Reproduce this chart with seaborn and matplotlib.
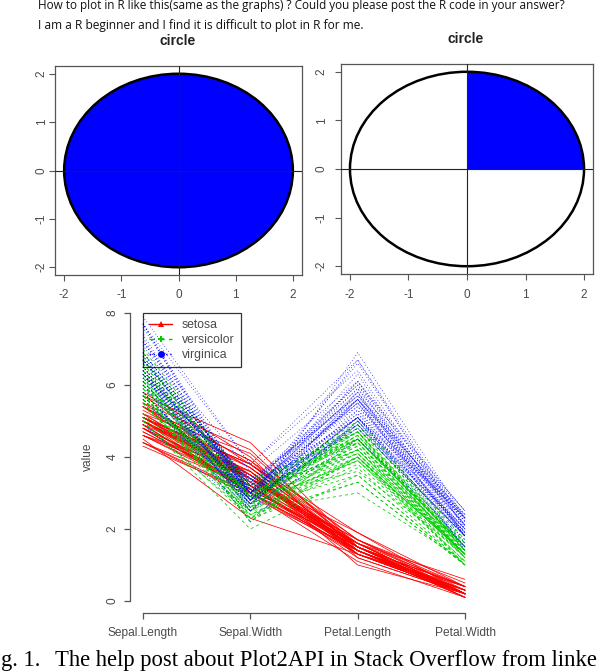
import numpy as np
import pandas as pd
import matplotlib
matplotlib.use("Agg")
import matplotlib.pyplot as plt
import seaborn as sns
from matplotlib.patches import Circle, Wedge
from matplotlib.lines import Line2D

# ---------------- data ----------------
question_lines = [
    "How to plot in R like this(same as the graphs) ? Could you please post the R code in your answer?",
    "I am a R beginner and I find it is difficult to plot in R for me.",
]
panel_titles = ["circle", "circle"]
circle_radius = 2
circle_ticks = [-2, -1, 0, 1, 2]
filled_quadrant = (0, 90)          # degrees of the blue wedge in the right panel

variables = ["Sepal.Length", "Sepal.Width", "Petal.Length", "Petal.Width"]
species_names = ["setosa", "versicolor", "virginica"]
value_ticks = [0, 2, 4, 6, 8]

setosa_sepal_length = [5.1,4.9,4.7,4.6,5.0,5.4,4.6,5.0,4.4,4.9,5.4,4.8,4.8,4.3,5.8,5.7,5.4,5.1,5.7,5.1,5.4,5.1,4.6,5.1,4.8,5.0,5.0,5.2,5.2,4.7,4.8,5.4,5.2,5.5,4.9,5.0,5.5,4.9,4.4,5.1,5.0,4.5,4.4,5.0,5.1,4.8,5.1,4.6,5.3,5.0]
setosa_sepal_width = [3.5,3.0,3.2,3.1,3.6,3.9,3.4,3.4,2.9,3.1,3.7,3.4,3.0,3.0,4.0,4.4,3.9,3.5,3.8,3.8,3.4,3.7,3.6,3.3,3.4,3.0,3.4,3.5,3.4,3.2,3.1,3.4,4.1,4.2,3.1,3.2,3.5,3.6,3.0,3.4,3.5,2.3,3.2,3.5,3.8,3.0,3.8,3.2,3.7,3.3]
setosa_petal_length = [1.4,1.4,1.3,1.5,1.4,1.7,1.4,1.5,1.4,1.5,1.5,1.6,1.4,1.1,1.2,1.5,1.3,1.4,1.7,1.5,1.7,1.5,1.0,1.7,1.9,1.6,1.6,1.5,1.4,1.6,1.6,1.5,1.5,1.4,1.5,1.2,1.3,1.4,1.3,1.5,1.3,1.3,1.3,1.6,1.9,1.4,1.6,1.4,1.5,1.4]
setosa_petal_width = [0.2,0.2,0.2,0.2,0.2,0.4,0.3,0.2,0.2,0.1,0.2,0.2,0.1,0.1,0.2,0.4,0.4,0.3,0.3,0.3,0.2,0.4,0.2,0.5,0.2,0.2,0.4,0.2,0.2,0.2,0.2,0.4,0.1,0.2,0.2,0.2,0.2,0.1,0.2,0.2,0.3,0.3,0.2,0.6,0.4,0.3,0.2,0.2,0.2,0.2]

versicolor_sepal_length = [7.0,6.4,6.9,5.5,6.5,5.7,6.3,4.9,6.6,5.2,5.0,5.9,6.0,6.1,5.6,6.7,5.6,5.8,6.2,5.6,5.9,6.1,6.3,6.1,6.4,6.6,6.8,6.7,6.0,5.7,5.5,5.5,5.8,6.0,5.4,6.0,6.7,6.3,5.6,5.5,5.5,6.1,5.8,5.0,5.6,5.7,5.7,6.2,5.1,5.7]
versicolor_sepal_width = [3.2,3.2,3.1,2.3,2.8,2.8,3.3,2.4,2.9,2.7,2.0,3.0,2.2,2.9,2.9,3.1,3.0,2.7,2.2,2.5,3.2,2.8,2.5,2.8,2.9,3.0,2.8,3.0,2.9,2.6,2.4,2.4,2.7,2.7,3.0,3.4,3.1,2.3,3.0,2.5,2.6,3.0,2.6,2.3,2.7,3.0,2.9,2.9,2.5,2.8]
versicolor_petal_length = [4.7,4.5,4.9,4.0,4.6,4.5,4.7,3.3,4.6,3.9,3.5,4.2,4.0,4.7,3.6,4.4,4.5,4.1,4.5,3.9,4.8,4.0,4.9,4.7,4.3,4.4,4.8,5.0,4.5,3.5,3.8,3.7,3.9,5.1,4.5,4.5,4.7,4.4,4.1,4.0,4.4,4.6,4.0,3.3,4.2,4.2,4.2,4.3,3.0,4.1]
versicolor_petal_width = [1.4,1.5,1.5,1.3,1.5,1.3,1.6,1.0,1.3,1.4,1.0,1.5,1.0,1.4,1.3,1.4,1.5,1.0,1.5,1.1,1.8,1.3,1.5,1.2,1.3,1.4,1.4,1.7,1.5,1.0,1.1,1.0,1.2,1.6,1.5,1.6,1.5,1.3,1.3,1.3,1.2,1.4,1.2,1.0,1.3,1.2,1.3,1.3,1.1,1.3]

virginica_sepal_length = [6.3,5.8,7.1,6.3,6.5,7.6,4.9,7.3,6.7,7.2,6.5,6.4,6.8,5.7,5.8,6.4,6.5,7.7,7.7,6.0,6.9,5.6,7.7,6.3,6.7,7.2,6.2,6.1,6.4,7.2,7.4,7.9,6.4,6.3,6.1,7.7,6.3,6.4,6.0,6.9,6.7,6.9,5.8,6.8,6.7,6.7,6.3,6.5,6.2,5.9]
virginica_sepal_width = [3.3,2.7,3.0,2.9,3.0,3.0,2.5,2.9,2.5,3.6,3.2,2.7,3.0,2.5,2.8,3.2,3.0,3.8,2.6,2.2,3.2,2.8,2.8,2.7,3.3,3.2,2.8,3.0,2.8,3.0,2.8,3.8,2.8,2.8,2.6,3.0,3.4,3.1,3.0,3.1,3.1,3.1,2.7,3.2,3.3,3.0,2.5,3.0,3.4,3.0]
virginica_petal_length = [6.0,5.1,5.9,5.6,5.8,6.6,4.5,6.3,5.8,6.1,5.1,5.3,5.5,5.0,5.1,5.3,5.5,6.7,6.9,5.0,5.7,4.9,6.7,4.9,5.7,6.0,4.8,4.9,5.6,5.8,6.1,6.4,5.6,5.1,5.6,6.1,5.6,5.5,4.8,5.4,5.6,5.1,5.1,5.9,5.7,5.2,5.0,5.2,5.4,5.1]
virginica_petal_width = [2.5,1.9,2.1,1.8,2.2,2.1,1.7,1.8,1.8,2.5,2.0,1.9,2.1,2.0,2.4,2.3,1.8,2.2,2.3,1.5,2.3,2.0,2.0,1.8,2.1,1.8,1.8,1.8,2.1,1.6,1.9,2.0,2.2,1.5,1.4,2.3,2.4,1.8,1.8,2.1,2.4,2.3,1.9,2.3,2.5,2.3,1.9,2.0,2.3,1.8]

# caption as visible in the (cropped) reference
caption_head = "g. 1."
caption_body = "The help post about Plot2API in Stack Overflow from linke"

# ---------------- build long table ----------------
table = {
    "setosa": [setosa_sepal_length, setosa_sepal_width, setosa_petal_length, setosa_petal_width],
    "versicolor": [versicolor_sepal_length, versicolor_sepal_width, versicolor_petal_length, versicolor_petal_width],
    "virginica": [virginica_sepal_length, virginica_sepal_width, virginica_petal_length, virginica_petal_width],
}
rows = []
uid = 0
for sp in species_names:
    cols = table[sp]
    for i in range(len(cols[0])):
        for j, var in enumerate(variables):
            rows.append({"id": uid, "species": sp, "pos": j + 1, "value": cols[j][i]})
        uid += 1
df = pd.DataFrame(rows)

# ---------------- style ----------------
sns.set_style("white")
plt.rcParams["font.family"] = ["Liberation Sans", "DejaVu Sans"]

W, H = 600, 672
fig = plt.figure(figsize=(W / 100, H / 100), dpi=100)
fig.patch.set_facecolor("white")


def axes_px(x0, y0, x1, y1):
    return fig.add_axes([x0 / W, 1 - y1 / H, (x1 - x0) / W, (y1 - y0) / H])


GRAY = "#555555"
TXT = "#4a4a4a"
renderer = fig.canvas.get_renderer()


def fit_text(x_px, y_px, s, target_w, measure=None, **kw):
    t = fig.text(x_px / W, 1 - y_px / H, measure if measure else s, fontsize=10, **kw)
    w = t.get_window_extent(renderer).width
    t.set_fontsize(10 * target_w / w)
    t.set_text(s)
    return t


# top question text
fit_text(38, 6, question_lines[0], 530, family=["Open Sans", "DejaVu Sans"], va="center", color="#111111")
fit_text(38, 25, question_lines[1], 329, family=["Open Sans", "DejaVu Sans"], va="center", color="#111111")

# ---------------- circle panels ----------------
circle_boxes = [(55, 66, 302, 275), (340.6, 64, 593.4, 274)]
title_pos = [(178, 41), (466, 39)]
ypads = [0.8, 5.0]
xpads = [5.5, 6.5]
lim = circle_radius * 1.08

for k, box in enumerate(circle_boxes):
    ax = axes_px(*box)
    ax.set_xlim(-lim, lim)
    ax.set_ylim(-lim, lim)
    if k == 0:
        ax.add_patch(Circle((0, 0), circle_radius, facecolor="#0000FF", edgecolor="black", lw=1.8, zorder=2))
    else:
        ax.add_patch(Wedge((0, 0), circle_radius, filled_quadrant[0], filled_quadrant[1],
                           facecolor="#0000FF", edgecolor="none", zorder=2))
        ax.add_patch(Circle((0, 0), circle_radius, facecolor="none", edgecolor="black", lw=1.8, zorder=3))
    ax.axhline(0, color="#222222", lw=0.8, zorder=4)
    ax.axvline(0, color="#222222", lw=0.8, zorder=4)
    ax.set_xticks(circle_ticks)
    ax.set_yticks(circle_ticks)
    ax.set_xticklabels([str(v) for v in circle_ticks])
    ax.set_yticklabels([str(v) for v in circle_ticks], rotation=90, va="center")
    ax.tick_params(axis="both", direction="out", length=4.3, width=0.8, color=GRAY,
                   labelcolor=TXT, labelsize=8.5, left=True, bottom=True)
    ax.tick_params(axis="y", pad=ypads[k])
    ax.tick_params(axis="x", pad=xpads[k])
    for sp in ax.spines.values():
        sp.set_visible(True)
        sp.set_color(GRAY)
        sp.set_linewidth(0.9)
    tx, ty = title_pos[k]
    fig.text(tx / W, 1 - ty / H, panel_titles[k], ha="center", va="center",
             fontsize=10, fontweight="bold", color="#222222")

# ---------------- parallel coordinates ----------------
ax = axes_px(130.1, 301.5, 477.9, 612.5)
palette = {"setosa": "#FF0000", "versicolor": "#00CD00", "virginica": "#0000FF"}
dashes = {"setosa": "", "versicolor": (4, 4), "virginica": (1, 3)}
sns.lineplot(data=df, x="pos", y="value", hue="species", style="species", units="id",
             estimator=None, sort=False, palette=palette, dashes=dashes,
             hue_order=species_names, style_order=species_names,
             lw=0.55, legend=False, ax=ax)
ax.set_xlim(0.88, 4.12)
ax.set_ylim(-0.32, 8.32)
ax.set_xticks(range(1, len(variables) + 1))
ax.set_xticklabels(variables)
ax.set_yticks(value_ticks)
ax.set_yticklabels([str(v) for v in value_ticks], rotation=90, va="center")
ax.set_xlabel("")
ax.set_ylabel("value", color=TXT, fontsize=8.6)
ax.yaxis.set_label_coords((94 - 130.1) / 347.8, 0.5)
for s in ["top", "right"]:
    ax.spines[s].set_visible(False)
ax.spines["left"].set_bounds(0, 8)
ax.spines["bottom"].set_bounds(1, 4)
for s in ["left", "bottom"]:
    ax.spines[s].set_color(GRAY)
    ax.spines[s].set_linewidth(0.9)
ax.tick_params(axis="both", direction="out", length=4, width=0.9, color=GRAY,
               labelcolor=TXT, labelsize=8.6, left=True, bottom=True)
ax.tick_params(axis="x", pad=6.5)
ax.tick_params(axis="y", pad=4.5)

markers = {"setosa": "^", "versicolor": "P", "virginica": "o"}
styles = {"setosa": "-", "versicolor": (0, (4, 3)), "virginica": (0, (1, 2))}
handles = [Line2D([0], [0], color=palette[s], lw=1.0, ls=styles[s], marker=markers[s],
                  markersize=5, markeredgewidth=0) for s in species_names]
leg = ax.legend(handles, species_names, loc="upper left", bbox_to_anchor=(1, 8),
                bbox_transform=ax.transData, borderaxespad=0, fontsize=8.8,
                frameon=True, fancybox=False, handlelength=1.9, handletextpad=0.8,
                labelspacing=0.25, borderpad=0.5)
leg.get_frame().set_edgecolor("black")
leg.get_frame().set_linewidth(0.9)
leg.get_frame().set_facecolor("none")
for t in leg.get_texts():
    t.set_color(TXT)

# ---------------- caption ----------------
serif = ["Liberation Serif", "DejaVu Serif"]
cap = fit_text(55, 666, caption_body, 541, family=serif, va="baseline", color="black")
fig.text(1 / W, 1 - 666 / H, caption_head, ha="left", va="baseline",
         family=serif, fontsize=cap.get_fontsize(), color="black")

fig.savefig("out.png", dpi=100, facecolor="white")
